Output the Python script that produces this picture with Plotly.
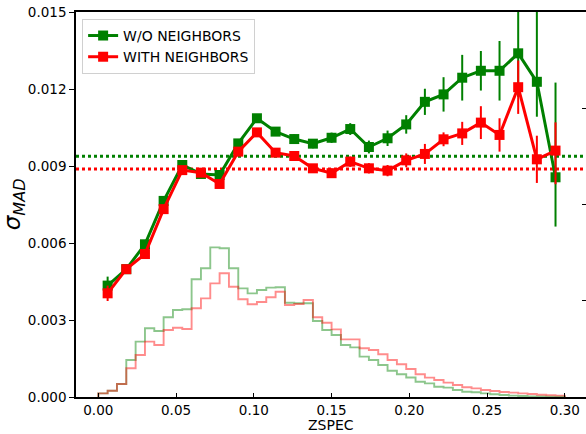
import numpy as np
import plotly.graph_objects as go

# ---------------- data ----------------
zspec = [0.006, 0.018, 0.030, 0.042, 0.054, 0.066, 0.078, 0.090, 0.102, 0.114,
         0.126, 0.138, 0.150, 0.162, 0.174, 0.186, 0.198, 0.210, 0.222, 0.234,
         0.246, 0.258, 0.270, 0.282, 0.294]

sigma_wo = [0.00434, 0.00498, 0.00595, 0.00764, 0.00904, 0.00869, 0.00865, 0.00988,
            0.01086, 0.01034, 0.01005, 0.00987, 0.01010, 0.01044, 0.00974, 0.01008,
            0.01062, 0.01150, 0.01179, 0.01244, 0.01271, 0.01271, 0.01339, 0.01228,
            0.00856]
err_wo_up = [0.00035, 0.00015, 0.00015, 0.00015, 0.00015, 0.00015, 0.00015, 0.00015,
             0.00015, 0.00015, 0.00018, 0.00018, 0.00020, 0.00023, 0.00025, 0.00030,
             0.00036, 0.00051, 0.00067, 0.00089, 0.00077, 0.00116, 0.00170, 0.00300,
             0.00369]
err_wo_dn = [0.00020, 0.00015, 0.00015, 0.00015, 0.00015, 0.00015, 0.00015, 0.00015,
             0.00015, 0.00015, 0.00018, 0.00018, 0.00020, 0.00023, 0.00025, 0.00030,
             0.00036, 0.00051, 0.00067, 0.00089, 0.00077, 0.00116, 0.00170, 0.00136,
             0.00192]

sigma_with = [0.00404, 0.00498, 0.00557, 0.00732, 0.00884, 0.00874, 0.00830, 0.00956,
              0.01031, 0.00952, 0.00939, 0.00891, 0.00872, 0.00917, 0.00891, 0.00882,
              0.00922, 0.00947, 0.01004, 0.01027, 0.01069, 0.01021, 0.01207, 0.00926,
              0.00960]
err_with_up = [0.00030, 0.00015, 0.00015, 0.00015, 0.00015, 0.00015, 0.00015, 0.00015,
               0.00015, 0.00015, 0.00015, 0.00015, 0.00018, 0.00020, 0.00020, 0.00022,
               0.00027, 0.00039, 0.00027, 0.00045, 0.00064, 0.00065, 0.00104, 0.00092,
               0.00110]
err_with_dn = [0.00030, 0.00015, 0.00015, 0.00015, 0.00015, 0.00015, 0.00015, 0.00015,
               0.00015, 0.00015, 0.00015, 0.00015, 0.00018, 0.00020, 0.00020, 0.00022,
               0.00027, 0.00039, 0.00027, 0.00045, 0.00064, 0.00065, 0.00104, 0.00092,
               0.00131]

mean_wo = 0.00938
mean_with = 0.00888

# histogram of redshifts (arbitrary density units), 50 bins from 0 to 0.3
hist_edges = np.linspace(0.0, 0.3, 51)
hist_wo = [0.38, 0.65, 1.35, 3.84, 5.75, 7.14, 6.86, 8.28, 9.04, 9.11,
           12.23, 13.37, 15.55, 15.45, 13.37, 11.29, 10.77, 11.12, 11.36, 11.40,
           9.80, 9.74, 9.74, 7.90, 6.96, 6.44, 5.40, 5.16, 4.19, 3.84,
           3.32, 2.73, 2.36, 2.03, 1.59, 1.42, 1.07, 0.97, 0.73, 0.55,
           0.49, 0.38, 0.28, 0.21, 0.14, 0.10, 0.07, 0.05, 0.03, 0.02]
hist_with = [0.38, 0.65, 1.35, 2.98, 4.36, 5.75, 5.40, 6.96, 7.20, 7.06,
             9.22, 10.25, 11.81, 12.85, 11.46, 10.15, 9.63, 9.87, 10.37, 10.94,
             9.56, 9.66, 10.08, 8.29, 7.72, 7.03, 5.99, 5.99, 5.06, 4.88,
             4.44, 3.84, 3.41, 2.91, 2.36, 2.01, 1.77, 1.49, 1.25, 1.01,
             0.90, 0.73, 0.62, 0.52, 0.45, 0.38, 0.31, 0.24, 0.18, 0.14]

GREEN = "#008000"
RED = "#ff0000"
FONT = "DejaVu Sans"


def step_xy(edges, vals):
    xs = [edges[0]] + list(edges)
    ys = [0.0] + list(vals) + [0.0]
    return xs, ys


fig = go.Figure()

# histograms (right axis)
for vals, col in [(hist_wo, "rgba(0,128,0,0.45)"), (hist_with, "rgba(255,0,0,0.45)")]:
    hx, hy = step_xy(hist_edges, vals)
    fig.add_trace(go.Scatter(x=hx, y=hy, mode="lines", line=dict(color=col, width=1.9, shape="hv"),
                             showlegend=False, hoverinfo="skip", yaxis="y"))

# sigma curves (left axis)
fig.add_trace(go.Scatter(
    x=zspec, y=sigma_wo, mode="lines+markers", name="W/O NEIGHBORS", yaxis="y2",
    line=dict(color=GREEN, width=3), marker=dict(symbol="square", size=10, color=GREEN),
    error_y=dict(type="data", symmetric=False, array=err_wo_up, arrayminus=err_wo_dn,
                 color=GREEN, thickness=2, width=0)))
fig.add_trace(go.Scatter(
    x=zspec, y=sigma_with, mode="lines+markers", name="WITH NEIGHBORS", yaxis="y2",
    line=dict(color=RED, width=3), marker=dict(symbol="square", size=10, color=RED),
    error_y=dict(type="data", symmetric=False, array=err_with_up, arrayminus=err_with_dn,
                 color=RED, thickness=2, width=0)))

for v, col in [(mean_wo, GREEN), (mean_with, RED)]:
    fig.add_shape(type="line", xref="paper", x0=0, x1=1, yref="y2", y0=v, y1=v,
                  line=dict(color=col, width=3, dash="dot"), layer="below")

fig.update_layout(
    width=586, height=434,
    margin=dict(l=76, r=0, t=12, b=37),
    paper_bgcolor="white", plot_bgcolor="white",
    font=dict(family=FONT, size=13.5, color="black"),
    xaxis=dict(range=[-0.01434, 0.3136], tickvals=[0.0, 0.05, 0.10, 0.15, 0.20, 0.25, 0.30],
               ticktext=["0.00", "0.05", "0.10", "0.15", "0.20", "0.25", "0.30"],
               ticks="inside", ticklen=4, tickwidth=1.2, tickcolor="black",
               showline=True, linecolor="black", linewidth=1.6, mirror=True,
               showgrid=False, zeroline=False),
    yaxis=dict(range=[0, 40], side="right", dtick=10, ticks="inside", ticklen=4,
               tickcolor="black", tickwidth=1.2, showticklabels=False,
               showline=False, showgrid=False, zeroline=False),
    yaxis2=dict(range=[0, 0.015], overlaying="y", side="left", anchor="x",
                tickvals=[0, 0.003, 0.006, 0.009, 0.012, 0.015],
                ticktext=["0.000", "0.003", "0.006", "0.009", "0.012", "0.015"],
                ticks="outside", ticklen=5, tickwidth=1.2, tickcolor="black",
                showline=True, linecolor="black", linewidth=1.6,
                showgrid=False, zeroline=False),
    legend=dict(x=0.012, y=0.982, xanchor="left", yanchor="top",
                bgcolor="white", bordercolor="#d0d0d0", borderwidth=1,
                font=dict(family=FONT, size=14), tracegroupgap=0),
    annotations=[
        dict(text="ZSPEC", xref="paper", yref="paper", x=0.5, y=-0.073,
             xanchor="center", yanchor="middle", showarrow=False,
             font=dict(family=FONT, size=14)),
        dict(text="<i>σ<sub>MAD</sub></i>", xref="paper", yref="paper", x=-0.122, y=0.5,
             xanchor="center", yanchor="middle", showarrow=False, textangle=-90,
             font=dict(family=FONT, size=23)),
    ],
)

fig.write_html("out.html")
